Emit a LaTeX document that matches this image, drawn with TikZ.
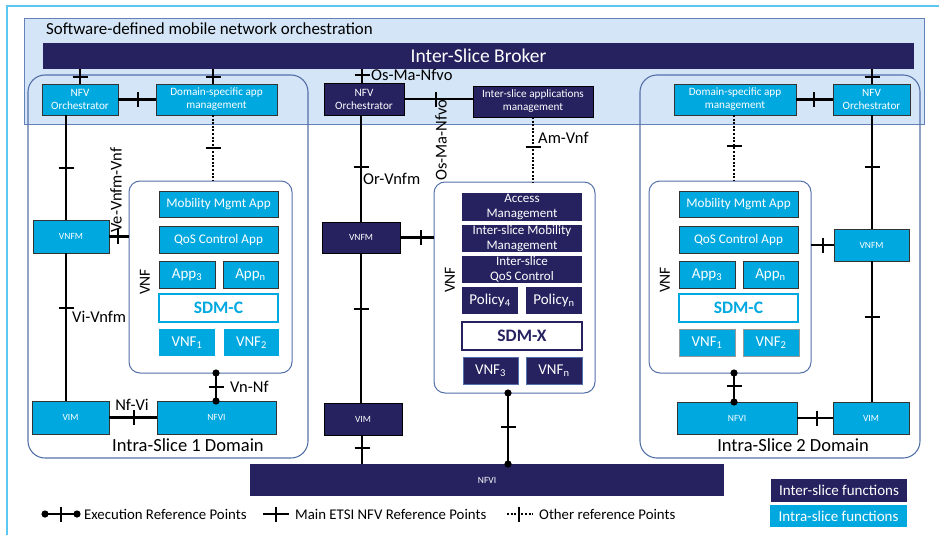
\documentclass[tikz,border=0pt]{standalone}
\usepackage{fontspec}
\setmainfont{Carlito}
\definecolor{navy}{RGB}{38,34,96}
\definecolor{cyanb}{RGB}{0,168,224}
\definecolor{orchfill}{RGB}{211,229,246}
\definecolor{orchline}{RGB}{100,130,185}
\definecolor{framec}{RGB}{84,112,168}
\definecolor{outerc}{RGB}{90,200,240}
\newcommand\boxat[7]{\node[#2,anchor=north west,minimum width={#5-#3},minimum height={#6-#4}] (#1) at (#3,#4) {#7};}
\newcommand\hTick[2]{\draw[tk] ({#1-7.5},#2) -- ({#1+7.5},#2);}
\newcommand\vTick[2]{\draw[tk] (#1,{#2-7.5}) -- (#1,{#2+7.5});}
\newcommand\execdot[1]{\fill (#1) circle (3.6pt);}
\tikzset{
  conn/.style={line width=2.4pt, black},
  dotc/.style={line width=2.4pt, black, dash pattern=on 2pt off 1.6pt},
  tk/.style={line width=2.4pt, black},
  base/.style={inner sep=0pt, outer sep=0pt, align=center},
  cbox/.style={base, fill=cyanb, draw=black!80, line width=0.8pt, text=white},
  cboxnb/.style={base, fill=cyanb, text=white},
  nbox/.style={base, fill=navy, draw=black, line width=0.8pt, text=white},
  nboxnb/.style={base, fill=navy, text=white},
  vnfframe/.style={base, draw=framec, fill=white, rounded corners=11pt, line width=1pt},
  domframe/.style={base, draw=framec, rounded corners=17pt, line width=1.1pt},
  sdmc/.style={base, fill=white, draw=cyanb, line width=2pt, text=cyanb, font=\fontsize{17.5}{17.5}\bfseries\selectfont},
  sdmx/.style={base, fill=white, draw=navy, line width=2pt, text=navy, font=\fontsize{17.5}{17.5}\bfseries\selectfont},
  tiny/.style={font=\fontsize{9.5}{9.5}\selectfont},
  small/.style={font=\fontsize{11.2}{13}\selectfont},
  app/.style={font=\fontsize{13.2}{13.2}\selectfont},
  appb/.style={font=\fontsize{15}{15}\selectfont},
  ctr/.style={font=\fontsize{13}{14.5}\selectfont},
  lbl/.style={inner sep=1pt, font=\fontsize{16.5}{16.5}\selectfont},
  domlbl/.style={inner sep=0pt, font=\fontsize{18.5}{18.5}\selectfont},
  vnflbl/.style={inner sep=0pt, rotate=90, font=\fontsize{15.5}{15.5}\selectfont},
  leg/.style={inner sep=0pt, anchor=west, font=\fontsize{14.8}{14.8}\selectfont},
}
\begin{document}
\begin{tikzpicture}[x=1pt,y=-1pt]
\useasboundingbox (0,0) rectangle (939,535);
% outer frame
\draw[outerc, line width=1.5pt] (7,540) -- (7,6) -- (945,6);
% orchestration area
\boxat{orch}{base, fill=orchfill, draw=orchline, line width=0.8pt}{24}{18}{924}{124}{}
\node[anchor=west, inner sep=0pt, font=\fontsize{16.9}{16.9}\selectfont] (title) at (46,29) {Software-defined mobile network orchestration};
\boxat{broker}{nboxnb, font=\fontsize{19.5}{19.5}\selectfont}{43}{43}{914}{69}{Inter-Slice Broker}
% domain frames
\boxat{dom1}{domframe}{28}{75}{308}{458}{}
\boxat{dom2}{domframe}{640}{75}{920}{458}{}
% ---------- left domain ----------
\boxat{nfvoL}{cbox, small}{42}{84}{118}{115}{NFV\\Orchestrator}
\boxat{dsamL}{cbox, small}{156}{84}{277}{115}{Domain-specific app\\management}
\boxat{vnfmL}{cbox, tiny}{33}{220}{109}{253}{VNFM}
\boxat{vimL}{cbox, tiny}{32}{401}{109}{434}{VIM}
\boxat{nfviL}{cbox, tiny}{157}{401}{276}{434}{NFVI}
\boxat{vnfL}{vnfframe}{129}{181}{292}{373}{}
\boxat{mobL}{cbox, app}{159}{191}{278}{217}{Mobility Mgmt App}
\boxat{qosL}{cbox, app}{159}{226}{278}{253}{QoS Control App}
\boxat{app3L}{cbox, appb}{159}{261}{215}{288}{App\textsubscript{3}}
\boxat{appnL}{cbox, appb}{223}{261}{278}{288}{App\textsubscript{n}}
\boxat{sdmcL}{sdmc}{159}{294}{278}{322}{SDM-C}
\boxat{vnf1L}{cboxnb, appb}{159}{329}{215}{356}{VNF\textsubscript{1}}
\boxat{vnf2L}{cboxnb, appb}{224}{329}{279}{356}{VNF\textsubscript{2}}
\node[vnflbl] (vnflabL) at (145,282) {VNF};
% ---------- centre ----------
\boxat{nfvoC}{nbox, small}{324}{83}{404}{115}{NFV\\Orchestrator}
\boxat{isam}{nbox, small}{473}{86}{593}{117}{Inter-slice applications\\management}
\boxat{vnfmC}{nbox, tiny}{322}{222}{400}{253}{VNFM}
\boxat{vimC}{nbox, tiny}{324}{403}{402}{435}{VIM}
\boxat{vnfC}{vnfframe}{434}{182}{595}{393}{}
\boxat{accC}{nboxnb, ctr}{462}{193}{582}{221}{Access\\Management}
\boxat{imobC}{nboxnb, ctr}{462}{225}{582}{252}{Inter-slice Mobility\\Management}
\boxat{iqosC}{nboxnb, ctr}{462}{256}{582}{283}{Inter-slice\\QoS Control}
\boxat{pol4}{nboxnb, appb}{462}{287}{518}{314}{Policy\textsubscript{4}}
\boxat{poln}{nboxnb, appb}{526}{287}{582}{314}{Policy\textsubscript{n}}
\boxat{sdmx}{sdmx}{462}{322}{582}{350}{SDM-X}
\boxat{vnf3}{nbox, draw=framec, appb}{463}{357}{518}{384}{VNF\textsubscript{3}}
\boxat{vnfn}{nbox, draw=framec, appb}{526}{357}{582}{384}{VNF\textsubscript{n}}
\node[vnflbl] (vnflabC) at (450,280) {VNF};
\boxat{nfviC}{nboxnb, tiny}{250}{464}{724}{496}{NFVI}
% ---------- right domain ----------
\boxat{dsamR}{cbox, small}{674}{84}{796}{115}{Domain-specific app\\management}
\boxat{nfvoR}{cbox, small}{833}{84}{910}{115}{NFV\\Orchestrator}
\boxat{vnfR}{vnfframe}{649}{181}{811}{373}{}
\boxat{mobR}{cbox, app}{679}{191}{798}{217}{Mobility Mgmt App}
\boxat{qosR}{cbox, app}{679}{226}{798}{253}{QoS Control App}
\boxat{app3R}{cbox, appb}{679}{261}{735}{288}{App\textsubscript{3}}
\boxat{appnR}{cbox, appb}{743}{261}{798}{288}{App\textsubscript{n}}
\boxat{sdmcR}{sdmc}{679}{294}{798}{322}{SDM-C}
\boxat{vnf1R}{cbox, draw=black!40, appb}{679}{329}{735}{356}{VNF\textsubscript{1}}
\boxat{vnf2R}{cbox, draw=black!40, appb}{743}{329}{799}{356}{VNF\textsubscript{2}}
\node[vnflbl] (vnflabR) at (665,280) {VNF};
\boxat{vnfmR}{cbox, tiny}{834}{229}{909}{261}{VNFM}
\boxat{nfviR}{cbox, tiny}{677}{402}{797}{434}{NFVI}
\boxat{vimR}{cbox, tiny}{833}{402}{909}{434}{VIM}
% ---------- connectors: left ----------
\draw[conn] (80,0 |- broker.south) -- (80,0 |- nfvoL.north); \hTick{80}{77}
\draw[conn] (213,0 |- broker.south) -- (213,0 |- dsamL.north); \hTick{213}{77}
\draw[conn] (nfvoL.east) -- (nfvoL.east -| dsamL.west); \vTick{138}{99.5}
\draw[dotc] (213,0 |- dsamL.south) -- (213,0 |- vnfL.north); \hTick{213}{148}
\draw[conn] (66,0 |- nfvoL.south) -- (66,0 |- vnfmL.north); \hTick{66}{168}
\draw[conn] (vnfmL.east) -- (vnfmL.east -| vnfL.west); \vTick{118}{236.5}
\draw[conn] (66,0 |- vnfmL.south) -- (66,0 |- vimL.north); \hTick{66}{308}
\draw[conn] (vimL.east) -- (vimL.east -| nfviL.west); \vTick{134}{417.5}
\draw[conn] (216,0 |- vnfL.south) -- (216,0 |- nfviL.north); \hTick{216}{387}
\execdot{216,0 |- vnfL.south} \execdot{216,0 |- nfviL.north}
\node[lbl, rotate=90] (lVe) at (116,190) {Ve-Vnfm-Vnf};
\node[lbl, anchor=west] (lVi) at (71,317) {Vi-Vnfm};
\node[lbl] (lNf) at (132,405) {Nf-Vi};
\node[lbl, anchor=west] (lVn) at (229,387) {Vn-Nf};
\node[domlbl] (ld1) at (188,445) {Intra-Slice 1 Domain};
% ---------- connectors: centre ----------
\draw[conn] (362,0 |- broker.south) -- (362,0 |- nfvoC.north); \hTick{362}{75}
\node[lbl, anchor=west] (lOs1) at (370,75) {Os-Ma-Nfvo};
\draw[conn] (nfvoC.east) -- (nfvoC.east -| isam.west); \vTick{436}{99}
\node[lbl, rotate=90] (lOs2) at (441,140) {Os-Ma-Nfvo};
\draw[conn] (361,0 |- nfvoC.south) -- (361,0 |- vnfmC.north); \hTick{361}{167}
\node[lbl, anchor=west] (lOr) at (362,179) {Or-Vnfm};
\draw[dotc] (533,0 |- isam.south) -- (533,0 |- vnfC.north); \hTick{533}{147}
\node[lbl, anchor=west] (lAm) at (537,138) {Am-Vnf};
\draw[conn] (vnfmC.east) -- (vnfmC.east -| vnfC.west); \vTick{421}{237.5}
\draw[conn] (361,0 |- vnfmC.south) -- (361,0 |- vimC.north); \hTick{361}{309}
\draw[conn] (362,0 |- vimC.south) -- (362,0 |- nfviC.north); \hTick{362}{448}
\draw[conn] (508,0 |- vnfC.south) -- (508,0 |- nfviC.north); \hTick{508}{427}
\execdot{508,0 |- vnfC.south} \execdot{508,0 |- nfviC.north}
% ---------- connectors: right ----------
\draw[conn] (872,0 |- broker.south) -- (872,0 |- nfvoR.north); \hTick{872}{77}
\draw[conn] (dsamR.east) -- (dsamR.east -| nfvoR.west); \vTick{814}{99.5}
\draw[dotc] (734,0 |- dsamR.south) -- (734,0 |- vnfR.north); \hTick{734}{146}
\draw[conn] (872,0 |- nfvoR.south) -- (872,0 |- vnfmR.north); \hTick{872}{167}
\draw[conn] (vnfmR.west) -- (vnfmR.west -| vnfR.east); \vTick{823}{245}
\draw[conn] (872,0 |- vnfmR.south) -- (872,0 |- vimR.north); \hTick{872}{317}
\draw[conn] (734,0 |- vnfR.south) -- (734,0 |- nfviR.north); \hTick{734}{386}
\execdot{734,0 |- vnfR.south} \execdot{734,0 |- nfviR.north}
\draw[conn] (nfviR.east) -- (nfviR.east -| vimR.west); \vTick{817}{418}
\node[domlbl] (ld2) at (793,445) {Intra-Slice 2 Domain};
% ---------- legend ----------
\coordinate (le1) at (45,514); \coordinate (le2) at (77,514);
\draw[conn] (le1) -- (le2); \vTick{61}{514} \execdot{le1} \execdot{le2}
\node[leg] (legE) at (84,514) {Execution Reference Points};
\coordinate (lm1) at (263,514); \coordinate (lm2) at (289,514);
\draw[conn] (lm1) -- (lm2); \vTick{276}{514}
\node[leg] (legM) at (295,514) {Main ETSI NFV Reference Points};
\coordinate (lo1) at (507,514); \coordinate (lo2) at (533,514);
\draw[dotc] (lo1) -- (lo2); \vTick{519}{514}
\node[leg] (legO) at (539,514) {Other reference Points};
\boxat{interLeg}{nboxnb, font=\fontsize{15}{15}\selectfont}{771}{479}{907}{502}{Inter-slice functions}
\boxat{intraLeg}{cboxnb, font=\fontsize{15}{15}\selectfont}{770}{505}{907}{527}{Intra-slice functions}
\end{tikzpicture}
\end{document}
